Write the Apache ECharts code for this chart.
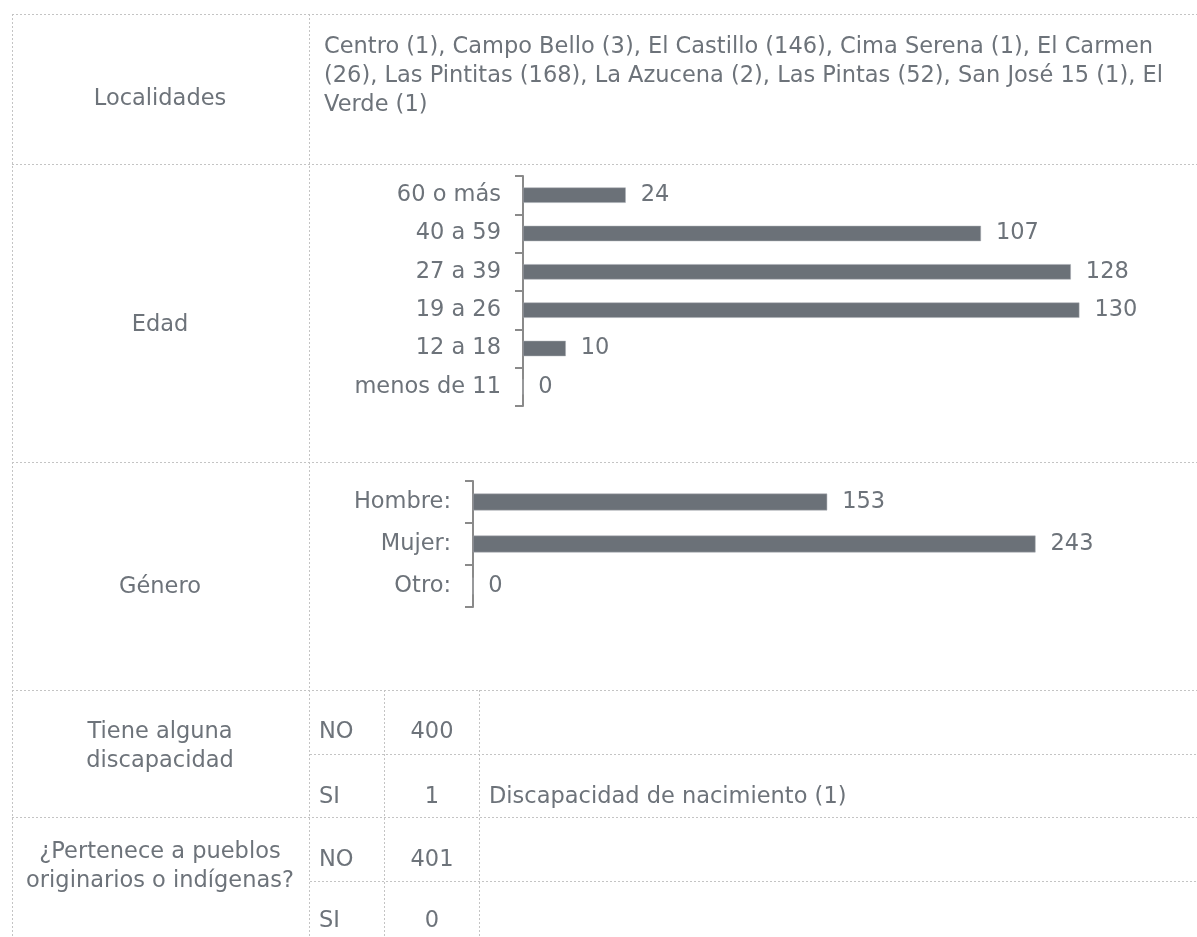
<!DOCTYPE html>
<html>
<head>
<meta charset="utf-8">
<script src="https://cdn.jsdelivr.net/npm/echarts@6/dist/echarts.min.js"></script>
<style>html,body{margin:0;padding:0;background:#fff}#c{width:1197px;height:937px}</style>
</head>
<body>
<div id="c"></div>
<script>
// ---- data ----
const localidadesLines = [
  'Centro (1), Campo Bello (3), El Castillo (146), Cima Serena (1), El Carmen',
  '(26), Las Pintitas (168), La Azucena (2), Las Pintas (52), San José 15 (1), El',
  'Verde (1)'
];
const edadCategories = ['menos de 11', '12 a 18', '19 a 26', '27 a 39', '40 a 59', '60 o más'];
const edadValues = [0, 10, 130, 128, 107, 24];
const generoCategories = ['Otro:', 'Mujer:', 'Hombre:'];
const generoValues = [0, 243, 153];
const discapacidadNo = 400;
const discapacidadSi = 1;
const discapacidadDetalle = 'Discapacidad de nacimiento (1)';
const indigenaNo = 401;
const indigenaSi = 0;
const rowLabels = ['Localidades', 'Edad', 'Género', 'Tiene alguna\ndiscapacidad', '¿Pertenece a pueblos\noriginarios o indígenas?'];

// ---- styling ----
const FONT = 'DejaVu Sans';
const TXT = '#6d737a';
const BAR = '#6b7178';
const LINE = '#c4c4c4';
const FS = 22.5;

const W = 1197;
function hline(y, x1, x2) {
  return { type: 'line', silent: true, shape: { x1: x1, y1: y, x2: x2, y2: y },
    style: { stroke: LINE, lineWidth: 1, lineDash: [2, 2] } };
}
function vline(x, y1, y2) {
  return { type: 'line', silent: true, shape: { x1: x, y1: y1, x2: x, y2: y2 },
    style: { stroke: LINE, lineWidth: 1, lineDash: [2, 2] } };
}
function txt(s, x, y, align, size) {
  return { type: 'text', silent: true, x: x, y: y,
    style: { text: s, fill: TXT, font: (size || FS) + 'px "' + FONT + '"',
      textAlign: align || 'left', textVerticalAlign: 'middle', lineHeight: 29 } };
}

const graphics = [
  hline(14.5, 12, W), hline(164.5, 12, W), hline(462.5, 12, W), hline(690.5, 12, W),
  hline(754.5, 310, W), hline(817.5, 12, W), hline(881.5, 310, W),
  vline(12.5, 14, 937), vline(309.5, 14, 937), vline(384.5, 690, 937), vline(479.5, 690, 937),
  txt(rowLabels[0], 160, 99, 'center'),
  txt(rowLabels[1], 160, 325, 'center'),
  txt(rowLabels[2], 160, 587, 'center'),
  txt(rowLabels[3], 160, 747, 'center'),
  txt(rowLabels[4], 160, 867, 'center'),
  txt('NO', 319, 732), txt(String(discapacidadNo), 432, 732, 'center'),
  txt('SI', 319, 797), txt(String(discapacidadSi), 432, 797, 'center'),
  txt(discapacidadDetalle, 489, 797),
  txt('NO', 319, 860), txt(String(indigenaNo), 432, 860, 'center'),
  txt('SI', 319, 921), txt(String(indigenaSi), 432, 921, 'center')
];
localidadesLines.forEach(function (l, i) { graphics.push(txt(l, 324, 47 + i * 29)); });

function catAxis(gi, cats) {
  return { type: 'category', gridIndex: gi, data: cats,
    axisLine: { show: true, lineStyle: { color: '#8a8a8a', width: 2 } },
    axisTick: { show: true, length: 8, lineStyle: { color: '#8a8a8a', width: 2 } },
    axisLabel: { color: TXT, fontFamily: FONT, fontSize: FS, margin: 22 } };
}
function valAxis(gi, max) {
  return { type: 'value', gridIndex: gi, min: 0, max: max, show: false, splitLine: { show: false } };
}
function barSeries(gi, vals) {
  return { type: 'bar', xAxisIndex: gi, yAxisIndex: gi, data: vals, barWidth: '40%',
    itemStyle: { color: BAR, borderColor: '#a9adb2', borderWidth: 0.5 },
    label: { show: true, position: 'right', distance: 15, color: TXT, fontFamily: FONT, fontSize: FS },
    silent: true, animation: false };
}

const chart = echarts.init(document.getElementById('c'), null, { renderer: 'canvas' });
chart.setOption({
  animation: false,
  grid: [
    { left: 523, top: 176, width: 642, height: 230 },
    { left: 473, top: 481, width: 694.5, height: 126 }
  ],
  xAxis: [valAxis(0, 150), valAxis(1, 300)],
  yAxis: [catAxis(0, edadCategories), catAxis(1, generoCategories)],
  series: [barSeries(0, edadValues), barSeries(1, generoValues)],
  graphic: graphics
});
</script>
</body>
</html>
